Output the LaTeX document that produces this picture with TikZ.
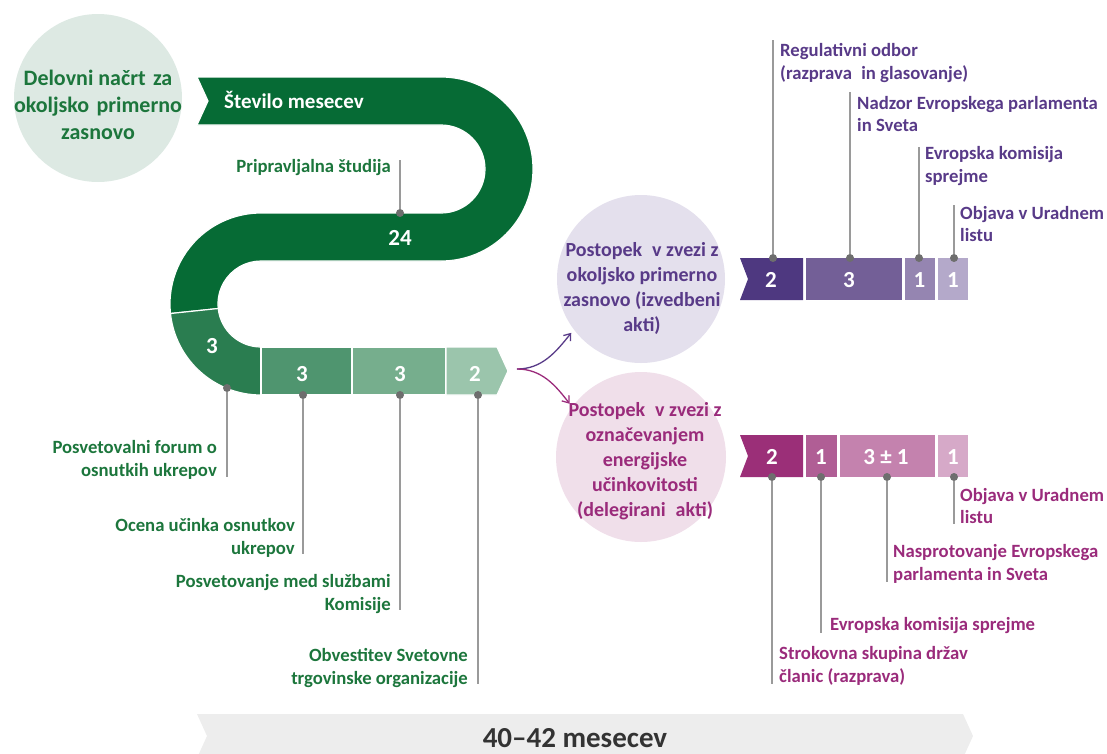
\documentclass[tikz,border=0pt]{standalone}
\usepackage{fontspec}
\setmainfont{Carlito}
\usetikzlibrary{arrows.meta,calc}
\definecolor{dkgreen}{HTML}{066B35}
\definecolor{arcgreen}{HTML}{2A7D50}
\definecolor{segA}{HTML}{4F956F}
\definecolor{segB}{HTML}{76AE8D}
\definecolor{segC}{HTML}{9BC5AC}
\definecolor{greentext}{HTML}{1C763C}
\definecolor{purpletext}{HTML}{583A88}
\definecolor{magtext}{HTML}{9A2B7B}
\definecolor{tlcirc}{HTML}{DDE9E3}
\definecolor{upcirc}{HTML}{E4E0ED}
\definecolor{locirc}{HTML}{F0DFEA}
\definecolor{pA}{HTML}{4E3880}
\definecolor{pB}{HTML}{735F97}
\definecolor{pC}{HTML}{9585B1}
\definecolor{pD}{HTML}{B4A9CA}
\definecolor{mA}{HTML}{9B2F78}
\definecolor{mB}{HTML}{B05E95}
\definecolor{mC}{HTML}{C482AE}
\definecolor{mD}{HTML}{D6A9C8}
\definecolor{linegray}{HTML}{9A9A9A}
\definecolor{dotgray}{HTML}{6E6E6E}
\definecolor{bandgray}{HTML}{EDEDED}
\definecolor{bandtext}{HTML}{333333}
\begin{document}
\begin{tikzpicture}[x=1pt,y=1pt,yscale=-1,
  lbl/.style={font=\bfseries\fontsize{18.7}{22.5}\selectfont, inner sep=0},
  glabel/.style={lbl, text=greentext, align=right, anchor=east},
  plabel/.style={lbl, text=purpletext, align=left, anchor=west},
  mlabel/.style={lbl, text=magtext, align=left, anchor=west},
  num/.style={font=\bfseries\fontsize{23}{26}\selectfont, text=white, inner sep=0, anchor=base},
  dot/.style={circle, fill=dotgray, inner sep=0, minimum size=8},
  leader/.style={draw=linegray, line width=1.8},
  bgcirc/.style={circle, inner sep=0},
  seg/.style={draw=white, line width=1.2}]
\useasboundingbox (0,0) rectangle (1107,753);
\clip (0,0) rectangle (1107,753);

% circles
\node[bgcirc, fill=tlcirc, minimum size=168] (cT) at (98,98) {};
\node[bgcirc, fill=upcirc, minimum size=168] (cU) at (641,279) {};
\node[bgcirc, fill=locirc, minimum size=170] (cL) at (641,457) {};
\node[font=\bfseries\fontsize{22}{27}\selectfont, text=greentext, align=center, inner sep=0] (tT) at (98,105) {Delovni načrt\,\,za\\okoljsko\,\,primerno\\zasnovo};
\node[font=\bfseries\fontsize{20}{25}\selectfont, text=purpletext, align=center, inner sep=0] (tU) at (642,288) {Postopek\enspace v zvezi z\\okoljsko primerno\\zasnovo (izvedbeni\\akti)};
\node[font=\bfseries\fontsize{20}{25}\selectfont, text=magtext, align=center, inner sep=0] (tL) at (645,461) {Postopek\enspace v zvezi z\\označevanjem\\energijske\\učinkovitosti\\(delegirani\enspace akti)};

% snake
\path[fill=dkgreen, seg] (197,77) -- (441,77) arc[start angle=270, end angle=450, radius=92]
  -- (261,261) arc[start angle=270, end angle=174, radius=43]
  -- ($(261,304)+(174:91)$) arc[start angle=174, end angle=270, radius=91]
  -- (441,213) arc[start angle=90, end angle=-90, radius=44]
  -- (197,125) -- (208,101) -- cycle;
\path[fill=arcgreen, seg] ($(261,304)+(174:91)$) arc[start angle=174, end angle=90, radius=91]
  -- (261,347) arc[start angle=90, end angle=174, radius=43] -- cycle;
\path[fill=segA, seg] (261,347) rectangle (352,395);
\path[fill=segB, seg] (352,347) rectangle (446,395);
\path[fill=segC, seg] (446,347) -- (497,347) -- (508,371) -- (497,395) -- (446,395) -- cycle;

\node[font=\bfseries\fontsize{21}{24}\selectfont, text=white, inner sep=0, anchor=base west] (sm) at (224,108) {Število mesecev};
\node[num] (n24) at (400,245) {24};
\node[num] (n3a) at (212,353) {3};
\node[num] (n3b) at (302,381) {3};
\node[num] (n3c) at (400,381) {3};
\node[num] (n2a) at (475,381) {2};

% bottom band
\path[fill=bandgray] (197,714) -- (963,714) -- (973,736) -- (963,758) -- (197,758) -- (207,736) -- cycle;
\node[font=\bfseries\fontsize{29}{32}\selectfont, text=bandtext, inner sep=0] (tot) at (575,738) {40–42 mesecev};

% upper bar
\path[fill=pA] (740,258) -- (803,258) -- (803,300) -- (740,300) -- (748,279) -- cycle;
\path[fill=pB] (806,258) rectangle (902,300);
\path[fill=pC] (905,258) rectangle (935,300);
\path[fill=pD] (938,258) rectangle (968,300);
\node[num] (u1) at (771,287) {2};
\node[num] (u2) at (849,287) {3};
\node[num] (u3) at (919.5,287) {1};
\node[num] (u4) at (953,287) {1};

% lower bar
\path[fill=mA] (740,435) -- (803,435) -- (803,477) -- (740,477) -- (748,456) -- cycle;
\path[fill=mB] (806,435) rectangle (837,477);
\path[fill=mC] (840,435) rectangle (935,477);
\path[fill=mD] (938,435) rectangle (968,477);
\node[num] (v1) at (772,464) {2};
\node[num] (v2) at (821,464) {1};
\node[num] (v3) at (886,464) {3 ± 1};
\node[num] (v4) at (953,464) {1};

% arrows
\coordinate (fork) at (517,369);
\draw[draw=purpletext, line width=1.3, -{Straight Barb[length=6pt,width=9pt]}, shorten >=4pt] (fork) .. controls (542,369) and (556,352) .. (cU.217);
\draw[draw=magtext, line width=1.3, -{Straight Barb[length=6pt,width=9pt]}, shorten >=4pt] (fork) .. controls (542,369) and (556,386) .. (cL.144);

% green labels
\node[glabel] (g1) at (391,168) {Pripravljalna študija};
\node[glabel] (g2) at (217,460) {Posvetovalni forum o\\osnutkih ukrepov};
\node[glabel] (g3) at (295,538) {Ocena učinka osnutkov\\ukrepov};
\node[glabel] (g4) at (391,594) {Posvetovanje med službami\\Komisije};
\node[glabel] (g5) at (468,668) {Obvestitev Svetovne\\trgovinske organizacije};
\node[dot] (dg1) at (400,213) {};
\node[dot] (dg2) at (227,388) {};
\node[dot] (dg3) at (303,395) {};
\node[dot] (dg4) at (400,395) {};
\node[dot] (dg5) at (478,395) {};
\coordinate (eg1) at (400,160);
\coordinate (eg2) at (227,477);
\coordinate (eg3) at (303,554);
\coordinate (eg4) at (400,610);
\coordinate (eg5) at (478,684);
\foreach \i in {1,...,5} {\draw[leader] (dg\i) -- (eg\i);}

% purple labels
\node[plabel] (p1) at (780,63) {Regulativni odbor\\(razprava\enspace in glasovanje)};
\node[plabel] (p2) at (857,114) {Nadzor Evropskega parlamenta\\in Sveta};
\node[plabel] (p3) at (925,166) {Evropska komisija\\sprejme};
\node[plabel] (p4) at (960,224) {Objava v Uradnem\\listu};
\node[dot] (dp1) at (773,258) {};
\node[dot] (dp2) at (850,258) {};
\node[dot] (dp3) at (919,258) {};
\node[dot] (dp4) at (954,258) {};
\coordinate (ep1) at (773,40);
\coordinate (ep2) at (850,92);
\coordinate (ep3) at (919,147);
\coordinate (ep4) at (954,205);
\foreach \i in {1,...,4} {\draw[leader] (dp\i) -- (ep\i);}

% magenta labels
\node[mlabel] (m1) at (779,666) {Strokovna skupina držav\\članic (razprava)};
\node[mlabel] (m2) at (830,626) {Evropska komisija sprejme};
\node[mlabel] (m3) at (893,564) {Nasprotovanje Evropskega\\parlamenta in Sveta};
\node[mlabel] (m4) at (960,506) {Objava v Uradnem\\listu};
\node[dot] (dm1) at (772,477) {};
\node[dot] (dm2) at (821,477) {};
\node[dot] (dm3) at (887,477) {};
\node[dot] (dm4) at (954,477) {};
\coordinate (em1) at (772,684);
\coordinate (em2) at (821,633);
\coordinate (em3) at (887,582);
\coordinate (em4) at (954,524);
\foreach \i in {1,...,4} {\draw[leader] (dm\i) -- (em\i);}
\end{tikzpicture}
\end{document}
